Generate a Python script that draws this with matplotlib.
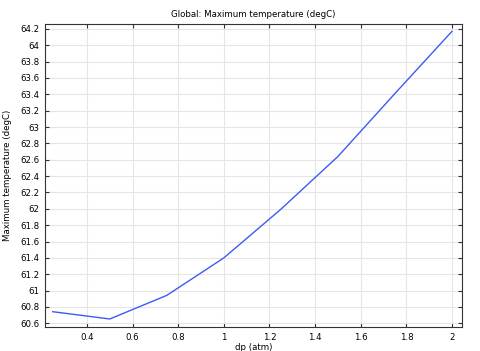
import matplotlib
matplotlib.use("Agg")
import matplotlib.pyplot as plt

dp = [0.25, 0.5, 0.75, 1.0, 1.25, 1.5, 1.75, 2.0]
tmax = [60.742, 60.653, 60.942, 61.40, 61.995, 62.64, 63.41, 64.17]
xticks = [0.4, 0.6, 0.8, 1.0, 1.2, 1.4, 1.6, 1.8, 2.0]
xticklabels = ["0.4", "0.6", "0.8", "1", "1.2", "1.4", "1.6", "1.8", "2"]
yticks = [60.6, 60.8, 61.0, 61.2, 61.4, 61.6, 61.8, 62.0, 62.2, 62.4, 62.6, 62.8,
          63.0, 63.2, 63.4, 63.6, 63.8, 64.0, 64.2]
yticklabels = ["60.6", "60.8", "61", "61.2", "61.4", "61.6", "61.8", "62", "62.2", "62.4",
               "62.6", "62.8", "63", "63.2", "63.4", "63.6", "63.8", "64", "64.2"]

fig = plt.figure(figsize=(4.8, 3.51), dpi=100)
ax = fig.add_axes([45/480, 1-327/351, (462-45)/480, (327-24)/351])
ax.plot(dp, tmax, color="#3a5cf5", lw=1.0)
ax.set_xlim(0.216, 2.044)
ax.set_ylim(60.555, 64.26)
ax.set_xticks(xticks)
ax.set_xticklabels(xticklabels)
ax.set_yticks(yticks)
ax.set_yticklabels(yticklabels)
ax.grid(True, color="#e6e6e6", lw=0.8)
ax.set_axisbelow(True)
ax.tick_params(direction="in", length=3, width=0.8, labelsize=6.2, top=True, right=True,
               color="#333333", pad=4)
for s in ax.spines.values():
    s.set_color("#333333")
    s.set_linewidth(0.8)
ax.set_title("Global: Maximum temperature (degC)", fontsize=6.2, pad=5)
ax.set_xlabel("dp (atm)", fontsize=6.2, labelpad=1)
ax.set_ylabel("Maximum temperature (degC)", fontsize=6.2, labelpad=6)
fig.savefig("out.png", dpi=100)
